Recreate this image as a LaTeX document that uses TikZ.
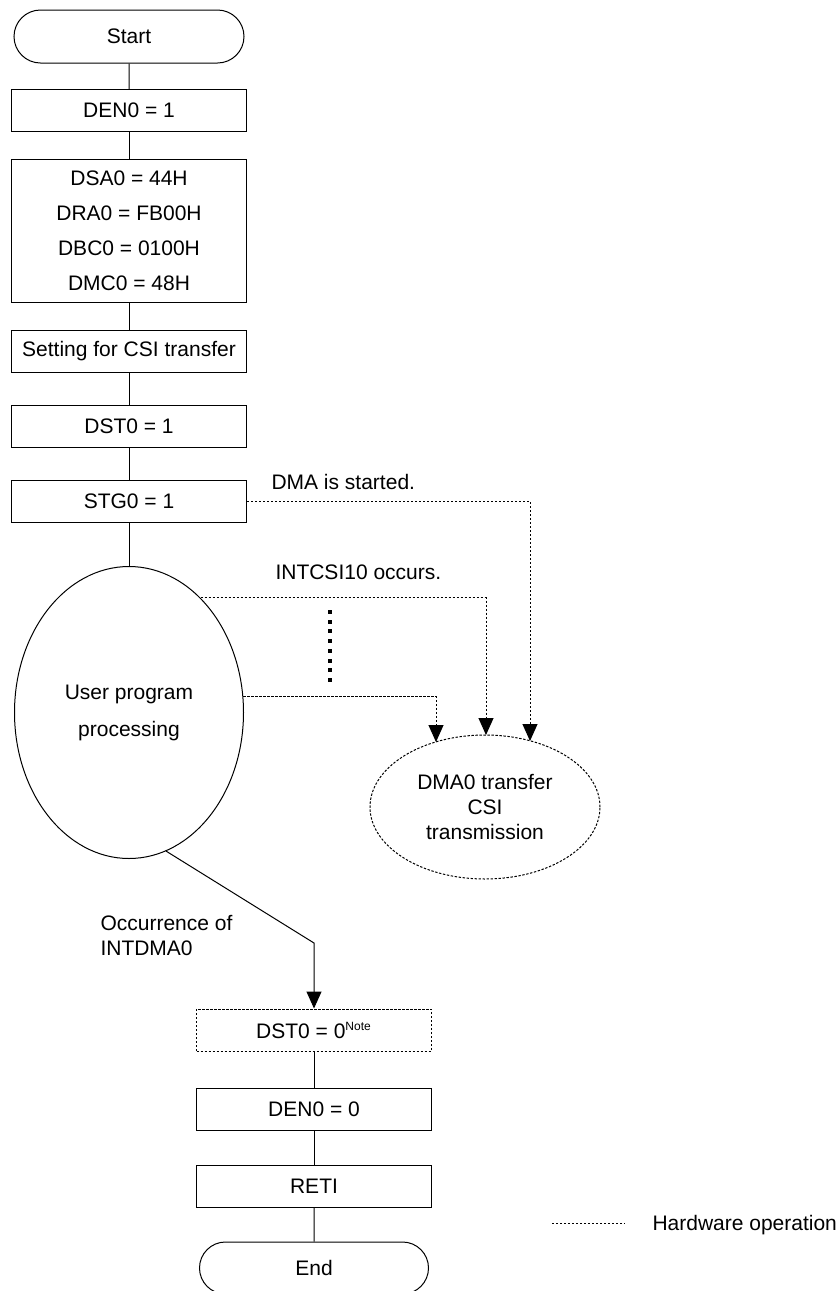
\documentclass[tikz,border=0pt]{standalone}
\usepackage{fontspec}
\setmainfont{Liberation Sans}
\usetikzlibrary{arrows.meta,shapes.geometric,shapes.misc}

\begin{document}
\begin{tikzpicture}[x=0.5pt,y=-0.5pt,>={Triangle[length=8.5pt,width=7.5pt]},
  line width=0.5pt,
  every node/.style={font=\fontsize{10.5}{12.6}\selectfont,inner sep=0pt},
  stepbox/.style={rectangle,draw,minimum width=117.5pt,minimum height=21pt},
  term/.style={rounded rectangle,draw,minimum width=115pt,minimum height=26.5pt},
  hwline/.style={dash pattern=on 1.2pt off 0.8pt}]
\useasboundingbox (0,0) rectangle (840,1291);
% main flow
\node[term] (start) at (129,36.5) {Start};
\node[stepbox] (den1) at (129,110.5) {DEN0 = 1};
\node[stepbox,minimum height=71.5pt,align=center,
  font=\fontsize{10.5}{17.5}\selectfont] (regs) at (129,230.5)
  {DSA0 = 44H\\DRA0 = FB00H\\DBC0 = 0100H\\DMC0 = 48H};
\node[stepbox] (csi) at (129,351.5) {Setting for CSI transfer};
\node[stepbox] (dst1) at (129,426) {DST0 = 1};
\node[stepbox] (stg) at (129,501) {STG0 = 1};
\node[ellipse,draw,minimum width=114.5pt,minimum height=146pt,align=center,
  font=\fontsize{10.5}{18.5}\selectfont] (user) at (129,712.5) {User program\\processing};
\node[ellipse,draw,hwline,minimum width=115pt,minimum height=72pt,align=center,
  font=\fontsize{10.5}{12.5}\selectfont] (dma) at (485,807) {DMA0 transfer\\CSI\\transmission};
\node[stepbox,hwline] (dst0) at (314,1030) {DST0 = 0\textsuperscript{\fontsize{6}{6}\selectfont Note}};
\node[stepbox] (den0) at (314,1109) {DEN0 = 0};
\node[stepbox] (reti) at (314,1186) {RETI};
\node[term,minimum width=114.5pt,minimum height=26pt] (stop) at (314,1268) {End};
% labels
\node[anchor=west] (lstart) at (271,482) {DMA is started.};
\node[anchor=west] (lcsi) at (275,572) {INTCSI10 occurs.};
\node[anchor=west,align=left] (lint) at (100,935.5) {Occurrence of\\INTDMA0};
\node[anchor=west] (lhw) at (652,1225) {Hardware operation};
\coordinate (t1) at (436,742);
\coordinate (t2) at (486,735);
\coordinate (t3) at (530,741);
\coordinate (bend) at (314,943);
\coordinate (ka) at (552,1223);
\coordinate (kb) at (625,1223);
% connectors
\foreach \a/\b in {start/den1,den1/regs,regs/csi,csi/dst1,dst1/stg,stg/user,
  dst0/den0,den0/reti,reti/stop}
  \draw (\a) -- (\b);
\draw[->,hwline] (stg.east) -| (t3);
\draw[->,hwline] (user.58.8) -| (t2);
\draw[->,hwline] (user.8.75) -| (t1);
\draw[->] (user.-75) -- (bend) -- (dst0.north);
\foreach \k in {0,...,7}
  \fill (328,610+9.7*\k) rectangle +(4,4);
\draw[hwline] (ka) -- (kb);
\end{tikzpicture}
\end{document}
